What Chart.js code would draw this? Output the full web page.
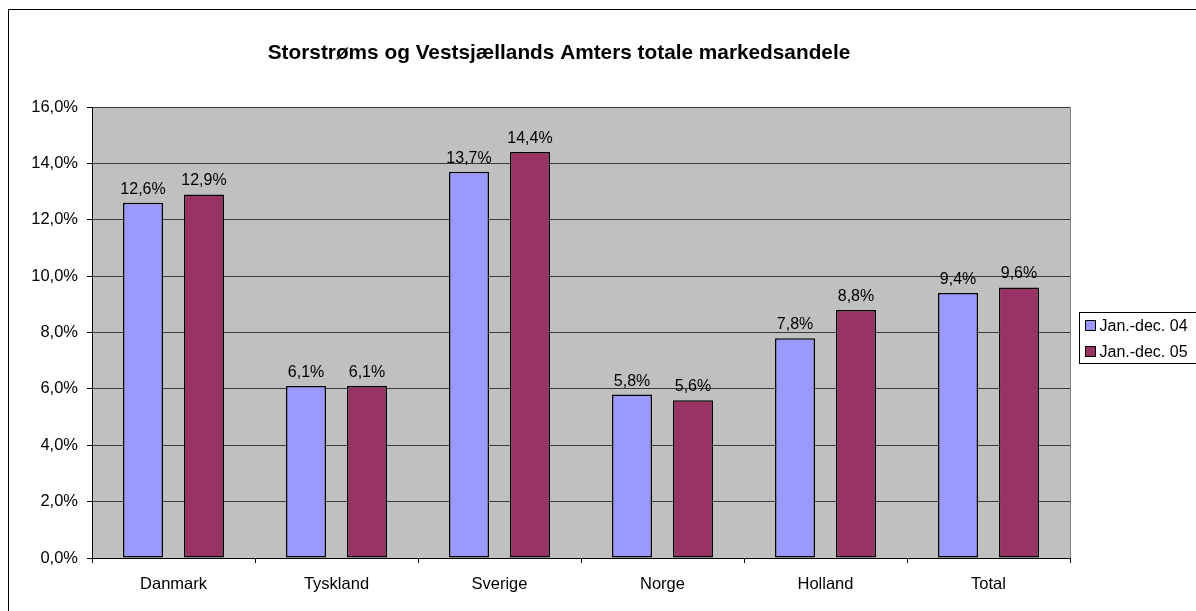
<!DOCTYPE html>
<html>
<head>
<meta charset="utf-8">
<script src="https://cdn.jsdelivr.net/npm/chart.js@4"></script>
<style>
  html, body { margin: 0; padding: 0; background: #fff; }
  #wrap { width: 1196px; height: 611px; }
</style>
</head>
<body>
<div id="wrap"><canvas id="chartMarkedsandele" width="1196" height="611"></canvas></div>
<script>
// Data
const kategorier = ['Danmark', 'Tyskland', 'Sverige', 'Norge', 'Holland', 'Total'];
const serie04 = [12.6, 6.1, 13.7, 5.8, 7.8, 9.4];
const serie05 = [12.9, 6.1, 14.4, 5.6, 8.8, 9.6];
const serieNavne = ['Jan.-dec. 04', 'Jan.-dec. 05'];
const titel = 'Storstrøms og Vestsjællands Amters totale markedsandele';

const farver = {
    blaa: '#9999FF',
    roed: '#993366',
    plot: '#C0C0C0',
    grid: '#3a3a3a'
};
const skrift = 'Arial, "Liberation Sans", sans-serif';

function formatProcent(v) {
    return v.toFixed(1).replace('.', ',') + '%';
}

// baggrund, ramme, titel, etiketter og legende
const tegnPlugin = {
    id: 'tegnPlugin',
    beforeDraw(chart) {
        const ctx = chart.ctx;
        const a = chart.chartArea;
        ctx.save();
        ctx.fillStyle = '#fff';
        ctx.fillRect(0, 0, chart.width, chart.height);
        ctx.strokeStyle = '#000';
        ctx.lineWidth = 1;
        ctx.strokeRect(8.5, 9.5, 1300, 700);
        ctx.fillStyle = farver.plot;
        ctx.fillRect(a.left, a.top, a.right - a.left, a.bottom - a.top);
        ctx.strokeStyle = '#808080';
        ctx.strokeRect(a.left + 0.5, a.top + 0.5, a.right - a.left, a.bottom - a.top);
        ctx.restore();
    },
    afterDraw(chart) {
        const ctx = chart.ctx;
        ctx.save();
        // titel
        ctx.fillStyle = '#000';
        ctx.font = 'bold 20.8px ' + skrift;
        ctx.textAlign = 'center';
        ctx.textBaseline = 'middle';
        ctx.fillText(titel, 559, 53);

        // dataetiketter
        ctx.font = '16px ' + skrift;
        ctx.textBaseline = 'alphabetic';
        chart.data.datasets.forEach((ds, i) => {
            chart.getDatasetMeta(i).data.forEach((bar, j) => {
                ctx.fillText(formatProcent(ds.data[j]), bar.x, bar.y - 9);
            });
        });

        // legende
        const lx = 1079.5, ly = 312.5;
        ctx.strokeStyle = '#000';
        ctx.lineWidth = 1;
        ctx.fillStyle = '#fff';
        ctx.fillRect(lx, ly, 140, 51);
        ctx.strokeRect(lx, ly, 140, 51);
        ctx.textAlign = 'left';
        ctx.textBaseline = 'middle';
        chart.data.datasets.forEach((ds, i) => {
            const y = ly + 13 + i * 26;
            ctx.fillStyle = ds.backgroundColor;
            ctx.fillRect(lx + 6, y - 5, 10, 10);
            ctx.strokeRect(lx + 6, y - 5, 10, 10);
            ctx.fillStyle = '#000';
            ctx.fillText(ds.label, lx + 20, y + 1);
        });
        ctx.restore();
    }
};

function lavGraf() {
    const canvas = document.getElementById('chartMarkedsandele');
    if (!canvas) return;

    try {
        new Chart(canvas, {
            type: 'bar',
            data: {
                labels: kategorier,
                datasets: [{
                    label: serieNavne[0],
                    data: serie04,
                    backgroundColor: farver.blaa,
                    borderColor: '#000',
                    borderWidth: 1.5,
                    borderSkipped: false
                }, {
                    label: serieNavne[1],
                    data: serie05,
                    backgroundColor: farver.roed,
                    borderColor: '#000',
                    borderWidth: 1.5,
                    borderSkipped: false
                }]
            },
            options: {
                responsive: false,
                animation: false,
                devicePixelRatio: 1,
                layout: { padding: { top: 107, right: 126, left: 0, bottom: 0 } },
                datasets: {
                    bar: { barPercentage: 0.656, categoryPercentage: 0.748 }
                },
                plugins: {
                    legend: { display: false },
                    title: { display: false },
                    tooltip: { enabled: false }
                },
                scales: {
                    x: {
                        afterFit: (s) => { s.height = 53; },
                        grid: {
                            offset: true,
                            drawOnChartArea: false,
                            drawTicks: true,
                            tickLength: 5,
                            color: '#000'
                        },
                        border: { color: '#000', width: 1 },
                        ticks: {
                            color: '#000',
                            padding: 12,
                            font: { family: skrift, size: 16.5 }
                        }
                    },
                    y: {
                        min: 0,
                        max: 16,
                        afterFit: (s) => { s.width = 92; },
                        grid: {
                            color: farver.grid,
                            tickColor: '#000',
                            tickLength: 5
                        },
                        border: { color: '#000', width: 1 },
                        ticks: {
                            stepSize: 2,
                            color: '#000',
                            padding: 9,
                            font: { family: skrift, size: 16.5 },
                            callback: function(value) {
                                return formatProcent(value);
                            }
                        }
                    }
                }
            },
            plugins: [tegnPlugin]
        });
    } catch (error) {
        console.error('Fejl i grafen:', error);
    }
}

lavGraf();
</script>
</body>
</html>
